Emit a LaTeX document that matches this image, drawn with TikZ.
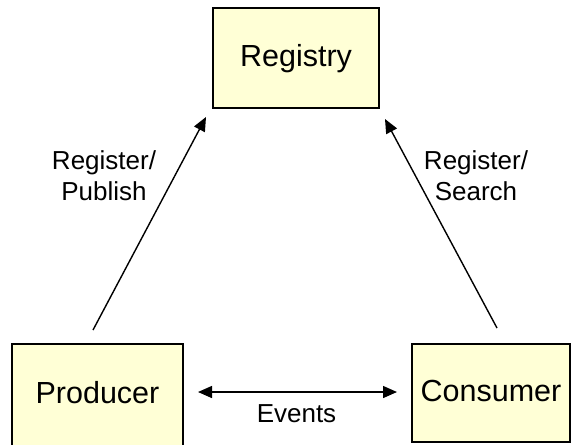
\documentclass[tikz,border=0pt]{standalone}
\usepackage{fontspec}
\setmainfont{Liberation Sans}
\usetikzlibrary{arrows.meta}
\definecolor{boxfill}{RGB}{255,255,214}
\tikzset{
  comp/.style={draw=black, fill=boxfill, line width=1.3pt, rectangle, inner sep=0pt,
    font=\fontsize{30.5}{36}\selectfont, text height=22pt, text depth=6pt},
  flow/.style={line width=1.4pt, -{Triangle[length=14pt,width=12pt]}},
  both/.style={line width=1.4pt, {Triangle[length=14pt,width=12pt]}-{Triangle[length=14pt,width=12pt]}},
  lbl/.style={font=\fontsize{26}{31}\selectfont, align=center, inner sep=0pt, anchor=base}
}
\begin{document}
\begin{tikzpicture}[x=1pt, y=-1pt]
  \useasboundingbox (0,0) rectangle (571,445);
  \begin{scope}
    \clip (0,0) rectangle (571,445);
    % components
    \node[comp, minimum width=166pt, minimum height=100pt] (reg)  at (296,58)  {Registry};
    \node[comp, minimum width=171pt, minimum height=102pt] (prod) at (97.5,395) {Producer};
    \node[comp, minimum width=158pt, minimum height=98pt]  (cons) at (491,393) {Consumer};
  \end{scope}

  % free ends of the connectors
  \coordinate (prodOut) at (93,330);
  \coordinate (regInL)  at (206,117);
  \coordinate (consOut) at (497,328);
  \coordinate (regInR)  at (385,119);
  \coordinate (evL) at (198,392);
  \coordinate (evR) at (397,392);

  \draw[flow] (prodOut) -- (regInL);
  \draw[flow] (consOut) -- (regInR);
  \draw[both] (evL) -- (evR);

  % labels (anchored on the baseline of the last line)
  \node[lbl] (lblPub) at (104,200) {Register/\\Publish};
  \node[lbl] (lblSea) at (476,200) {Register/\\Search};
  \node[lbl] (lblEv)  at (296.5,422) {Events};
\end{tikzpicture}
\end{document}
